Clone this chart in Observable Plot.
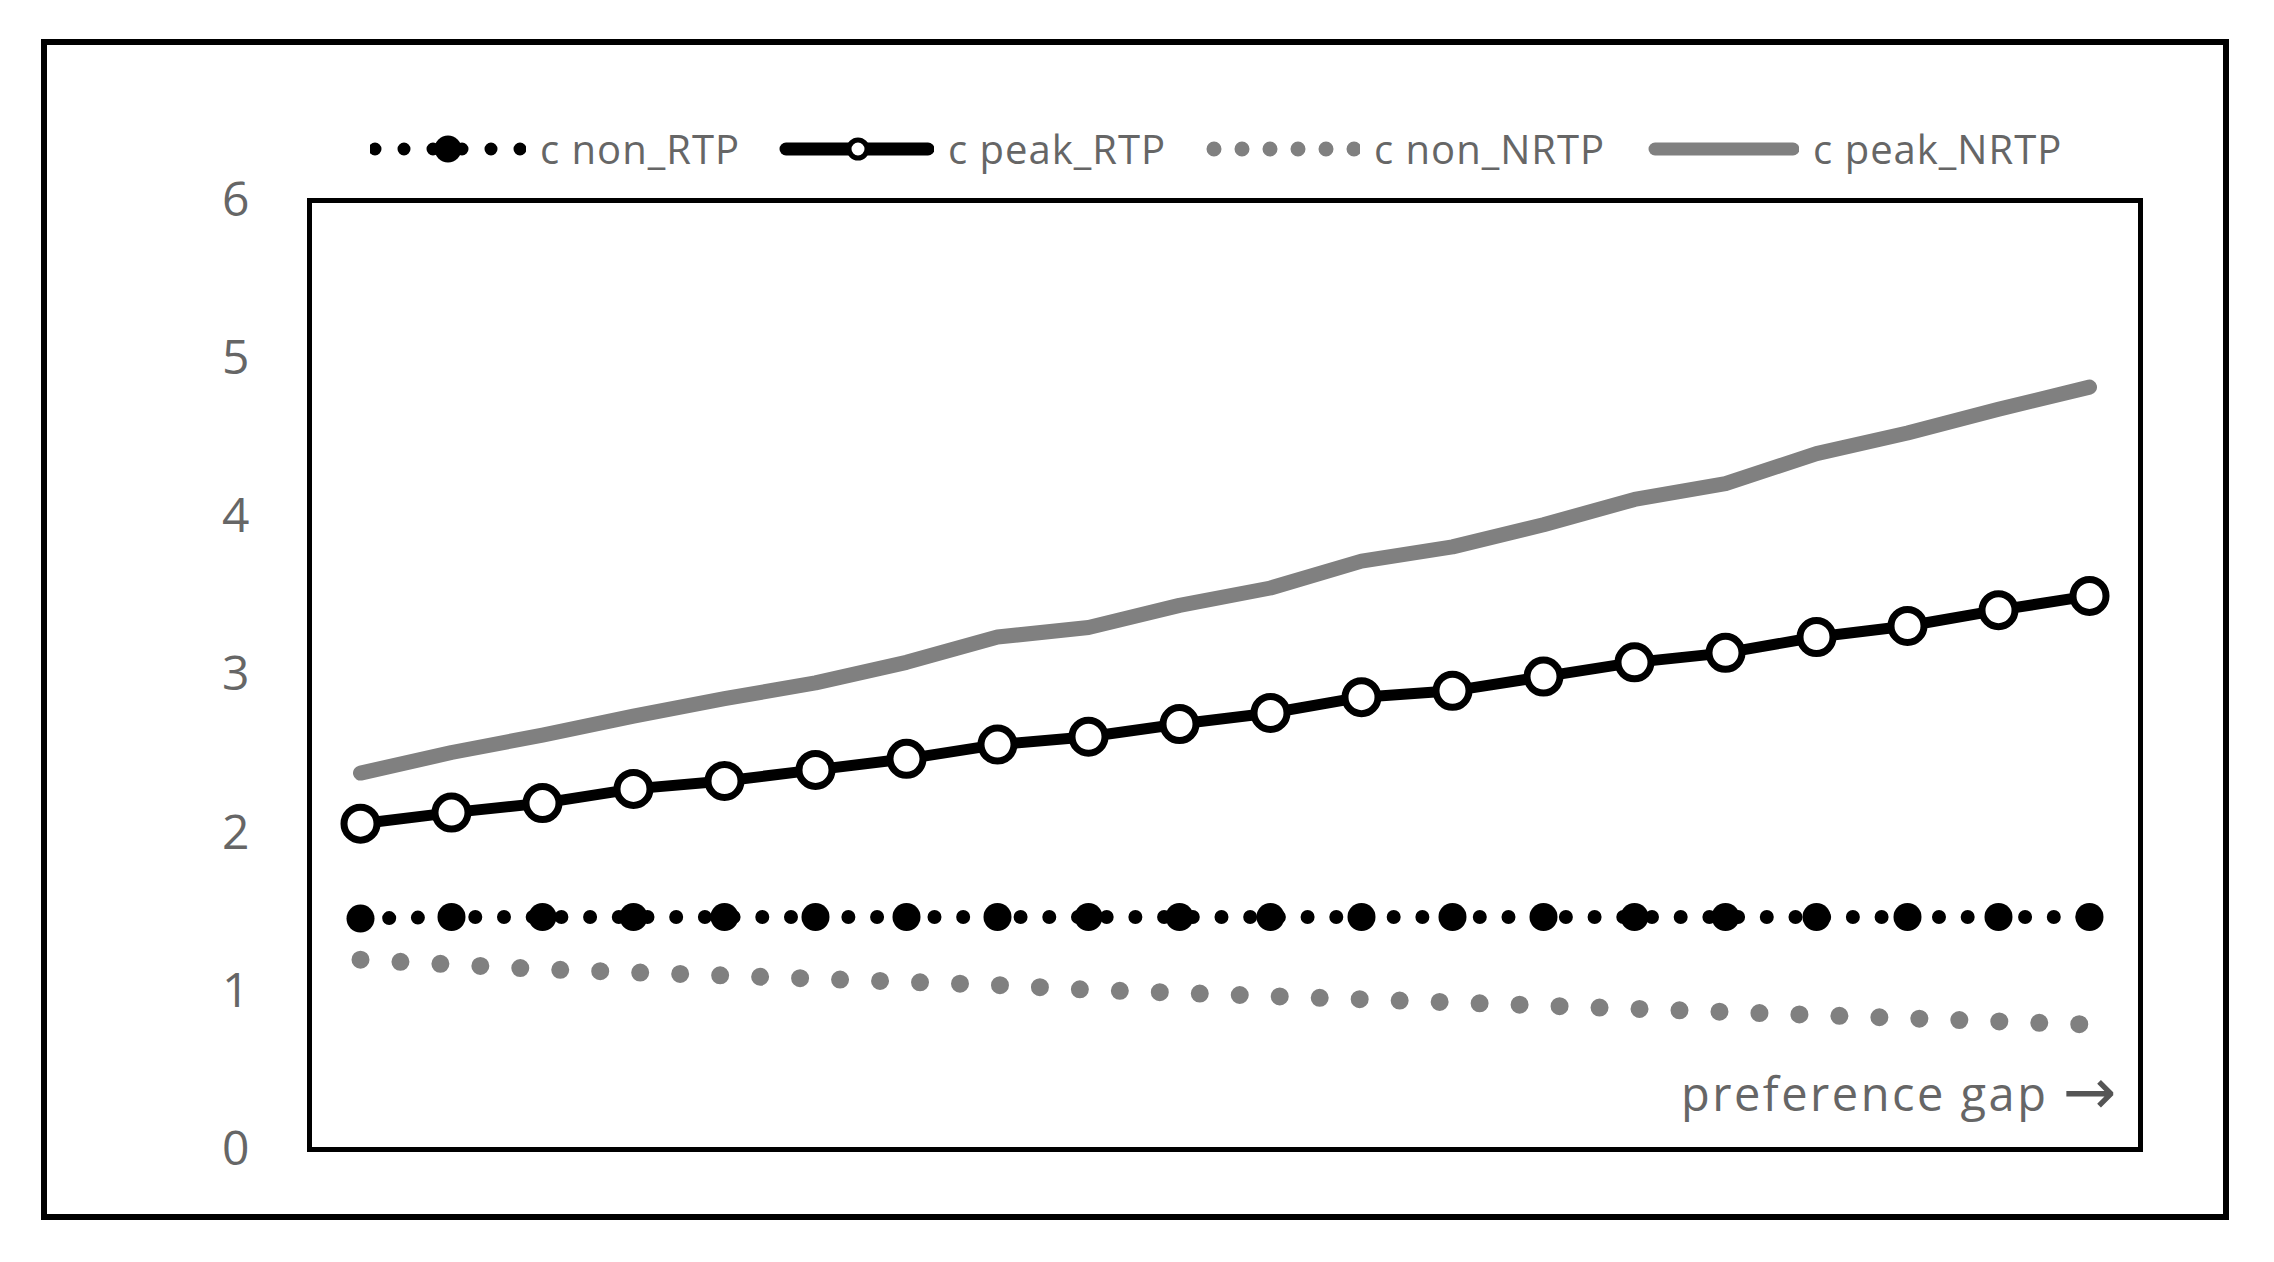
<!DOCTYPE html>
<html>
<head>
<meta charset="utf-8">
<script src="https://cdn.jsdelivr.net/npm/d3@7"></script>
<script src="https://cdn.jsdelivr.net/npm/@observablehq/plot@0.6"></script>
<style>
  html, body { margin: 0; padding: 0; background: #fff; width: 2274px; height: 1262px; overflow: hidden; font-family: "Open Sans", sans-serif; }
  #outer { position: absolute; left: 41px; top: 39px; width: 2188px; height: 1181px; box-sizing: border-box; border: 6px solid #000; }
  #legend { position: absolute; left: 370px; top: 124px; height: 50px; width: 1850px; display: flex; align-items: center; }
  .item { display: flex; align-items: center; margin-right: 38px; flex: none; }
  .item svg { width: 156px; height: 40px; margin-right: 14px; display: block; flex: none; }
  .item span { font-size: 40px; letter-spacing: 1px; color: #666; line-height: 50px; white-space: nowrap; }
  #chart { position: absolute; left: 0; top: 180px; z-index: 2; }
  #chart g[aria-label="text"] text { letter-spacing: 2.5px; }
</style>
</head>
<body>
<div id="outer"></div>
<div id="legend"></div>
<div id="chart"></div>
<script>
// ---- data ----
const xCats = [1, 2, 3, 4, 5, 6, 7, 8, 9, 10, 11, 12, 13, 14, 15, 16, 17, 18, 19, 20];
const seriesNames = ["c non_RTP", "c peak_RTP", "c non_NRTP", "c peak_NRTP"];
const nonRTP   = [1.46, 1.47, 1.47, 1.47, 1.47, 1.47, 1.47, 1.47, 1.47, 1.47, 1.47, 1.47, 1.47, 1.47, 1.47, 1.47, 1.47, 1.47, 1.47, 1.47];
const peakRTP  = [2.06, 2.13, 2.19, 2.28, 2.33, 2.40, 2.47, 2.56, 2.61, 2.69, 2.76, 2.86, 2.90, 2.99, 3.08, 3.14, 3.24, 3.31, 3.41, 3.50];
const nonNRTP  = [1.20, 1.17, 1.14, 1.12, 1.10, 1.08, 1.06, 1.04, 1.01, 0.99, 0.97, 0.95, 0.93, 0.91, 0.89, 0.87, 0.85, 0.83, 0.81, 0.79];
const peakNRTP = [2.38, 2.51, 2.62, 2.74, 2.85, 2.95, 3.08, 3.24, 3.30, 3.44, 3.55, 3.72, 3.81, 3.95, 4.11, 4.21, 4.40, 4.53, 4.68, 4.82];
const yTicks = [0, 1, 2, 3, 4, 5, 6];
const xAxisNote = "preference gap";
const xAxisArrow = "→";

const rows = arr => xCats.map((x, i) => ({x, v: arr[i]}));

// ---- legend ----
const swatches = [
  `<line x1="5" y1="20" x2="151" y2="20" stroke="#000" stroke-width="13" stroke-linecap="round" stroke-dasharray="0 29"/><circle cx="78" cy="20" r="13.5" fill="#000"/>`,
  `<line x1="8" y1="20" x2="150" y2="20" stroke="#000" stroke-width="13" stroke-linecap="round"/><circle cx="80" cy="20" r="9" fill="#fff" stroke="#000" stroke-width="5"/>`,
  `<line x1="10" y1="20" x2="151" y2="20" stroke="#808080" stroke-width="15" stroke-linecap="round" stroke-dasharray="0 28"/>`,
  `<line x1="12" y1="20" x2="150" y2="20" stroke="#808080" stroke-width="13" stroke-linecap="round"/>`
];
document.getElementById("legend").innerHTML = seriesNames.map((n, i) =>
  `<div class="item"><svg viewBox="0 0 156 40">${swatches[i]}</svg><span>${n}</span></div>`).join("");

// ---- chart ----
const chart = Plot.plot({
  width: 2274,
  height: 1010,
  marginLeft: 309,
  marginRight: 134,
  marginTop: 20,
  marginBottom: 41,
  style: {fontFamily: "Open Sans", background: "none", overflow: "visible"},
  x: {type: "point", domain: xCats, padding: 0.5, axis: null},
  y: {domain: [0, 6]},
  marks: [
    Plot.axisY(yTicks, {tickSize: 0, tickPadding: 60, fontSize: 48, color: "#666", label: null, tickFormat: d3.format("d")}),
    Plot.line(rows(nonRTP), {x: "x", y: "v", stroke: "#000", strokeWidth: 14, strokeDasharray: "0 28.7", strokeLinecap: "round"}),
    Plot.dot(rows(nonRTP), {x: "x", y: "v", r: 14, fill: "#000"}),
    Plot.line(rows(peakRTP), {x: "x", y: "v", stroke: "#000", strokeWidth: 11, strokeLinecap: "round"}),
    Plot.dot(rows(peakRTP), {x: "x", y: "v", r: 16.5, fill: "#fff", stroke: "#000", strokeWidth: 7}),
    Plot.line(rows(nonNRTP), {x: "x", y: "v", stroke: "#808080", strokeWidth: 18, strokeDasharray: "0 40", strokeLinecap: "round"}),
    Plot.line(rows(peakNRTP), {x: "x", y: "v", stroke: "#808080", strokeWidth: 15, strokeLinecap: "round"}),
    Plot.text([xAxisNote], {frameAnchor: "bottom-right", textAnchor: "end", lineAnchor: "middle", dx: -92, dy: -54, fontSize: 47, fill: "#666"}),
    Plot.text([xAxisArrow], {frameAnchor: "bottom-right", textAnchor: "end", lineAnchor: "middle", dx: -22, dy: -56, fontSize: 64, fill: "#555", fontFamily: "DejaVu Sans"}),
    Plot.frame({stroke: "#000", strokeWidth: 5})
  ]
});
document.getElementById("chart").appendChild(chart);
</script>
</body>
</html>
